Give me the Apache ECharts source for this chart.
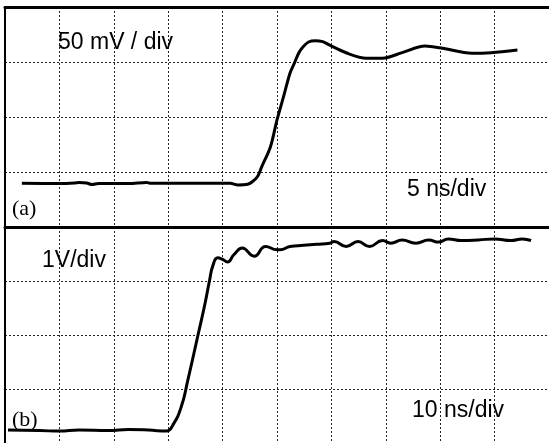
<!DOCTYPE html>
<html>
<head>
<meta charset="utf-8">
<script src="https://cdn.jsdelivr.net/npm/echarts@6/dist/echarts.min.js"></script>
<style>html,body{margin:0;padding:0;background:#fff;}#c{width:549px;height:443px;}</style>
</head>
<body>
<div id="c"></div>
<script>
// Panel (a): time in ns (5 ns/div), amplitude in mV (50 mV/div)
var aTime = [1.55, 5.0, 6.4, 6.8, 7.5, 8.0, 8.6, 11.4, 13.0, 13.4, 17.7, 20.7, 21.4, 22.3, 22.7, 23.2, 23.6, 24.4, 25.0, 25.6, 26.2, 26.6, 27.0, 27.4, 27.9, 28.5, 29.2, 29.8, 31.4, 33.2, 34.7, 36.5, 38.6, 40.2, 42.9, 44.7, 47.1];
var aVolt = [39.7, 39.5, 40.0, 40.5, 40.0, 38.6, 39.5, 39.5, 40.5, 39.7, 39.7, 39.7, 38.2, 38.8, 40.9, 45.7, 54.8, 73.0, 97.3, 118.5, 140.0, 149.0, 158.2, 163.9, 168.2, 169.4, 168.5, 165.5, 158.2, 153.4, 153.4, 158.5, 164.5, 162.5, 157.9, 158.5, 160.9];
// Panel (b): time in ns (10 ns/div), amplitude in V (1 V/div)
var bTime = [0.55, 6.4, 10.0, 13.6, 19.1, 22.7, 26.4, 29.7, 30.9, 32.4, 33.6, 35.5, 36.7, 37.6, 38.2, 39.1, 40.0, 40.9, 42.1, 43.6, 45.8, 47.9, 50.0, 50.6, 52.4, 54.9, 57.3, 59.7, 60.5, 62.7, 64.9, 67.0, 69.4, 70.9, 73.0, 75.5, 77.9, 79.7, 81.5, 83.9, 87.0, 90.0, 93.0, 95.1, 96.7];
var bVolt = [0.24, 0.23, 0.22, 0.24, 0.23, 0.25, 0.24, 0.22, 0.34, 0.67, 1.16, 2.01, 2.55, 3.01, 3.28, 3.43, 3.40, 3.35, 3.49, 3.61, 3.46, 3.64, 3.58, 3.58, 3.64, 3.66, 3.68, 3.70, 3.73, 3.64, 3.73, 3.64, 3.75, 3.70, 3.76, 3.70, 3.76, 3.72, 3.78, 3.75, 3.76, 3.78, 3.75, 3.78, 3.75];
var labelA = '50 mV / div', labelATime = '5 ns/div', labelB = '1V/div', labelBTime = '10 ns/div';

function pairs(xs, ys){ return xs.map(function(x,i){ return [x, ys[i]]; }); }

var chart = echarts.init(document.getElementById('c'), null, {renderer:'canvas'});
var split = {show:true, lineStyle:{color:'#222', width:1, type:[2,2]}};
function xAx(idx, max, intv){
  return {type:'value', gridIndex:idx, min:0, max:max, interval:intv, position:'top',
    axisLine:{show:true, onZero:false, lineStyle:{color:'#000', width:3}},
    axisTick:{show:false}, axisLabel:{show:false}, splitLine:split};
}
function yAx(idx, max, intv){
  return {type:'value', gridIndex:idx, min:0, max:max, interval:intv, position:'left',
    axisLine:{show:true, onZero:false, lineStyle:{color:'#000', width:2}},
    axisTick:{show:false}, axisLabel:{show:false}, splitLine:split};
}
function txt(t, x, y, font){
  return {type:'text', x:x, y:y, z:100, style:{text:t, font:font, fill:'#000', align:'left', verticalAlign:'middle', textAlign:'left', textVerticalAlign:'middle'}};
}
var sans = '23px "Liberation Sans", Arial, sans-serif';
var serif = '22px "Liberation Serif", "Times New Roman", serif';
chart.setOption({
  animation:false,
  backgroundColor:'#fff',
  grid:[{left:5, top:7, width:550, height:220}, {left:5, top:227, width:550, height:220}],
  xAxis:[xAx(0,50,5), xAx(1,100,10)],
  yAxis:[yAx(0,200,50), yAx(1,4,1)],
  series:[
    {type:'line', xAxisIndex:0, yAxisIndex:0, data:pairs(aTime,aVolt), symbol:'none', smooth:0.3, lineStyle:{color:'#000', width:3}},
    {type:'line', xAxisIndex:1, yAxisIndex:1, data:pairs(bTime,bVolt), symbol:'none', smooth:0.5, lineStyle:{color:'#000', width:3}}
  ],
  graphic:[
    txt(labelA, 58, 43, sans),
    txt(labelATime, 407, 190, sans),
    txt(labelB, 42, 261, sans),
    txt(labelBTime, 412, 411, sans),
    txt('(a)', 12, 209, serif),
    txt('(b)', 12, 420, serif)
  ]
});
</script>
</body>
</html>
